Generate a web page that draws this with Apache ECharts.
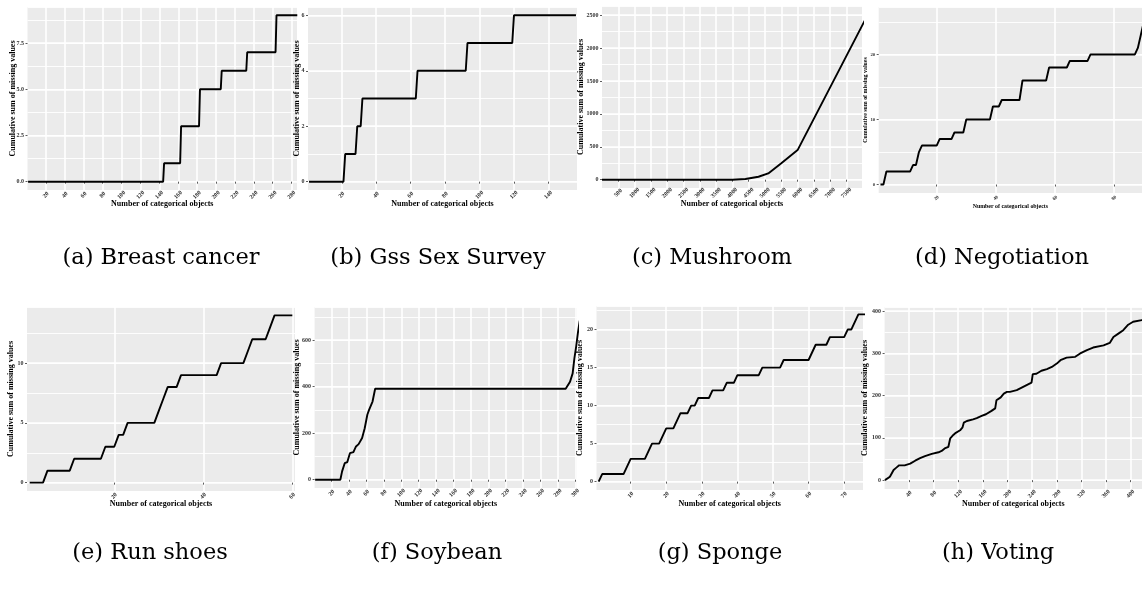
<!DOCTYPE html>
<html><head><meta charset="utf-8">
<script src="https://cdn.jsdelivr.net/npm/echarts@6/dist/echarts.min.js"></script>
<style>html,body{margin:0;padding:0;background:#fff}#c{width:1142px;height:596px}</style>
</head><body><div id="c"></div>
<script>
// ---------------- DATA ----------------
const breastX = [1,144,145,162,163,182,183,205,206,232,233,263,264,286];
const breastY = [0,0,1,1,3,3,5,5,6,6,7,7,9,9];
const breastXTicks = [20,40,60,80,100,120,140,160,180,200,220,240,260,280];
const breastYTicks = [0,2.5,5,7.5];

const gssX = [1,21,22,28,29,31,32,63,64,92,93,119,120,156];
const gssY = [0,0,1,1,2,2,3,3,4,4,5,5,6,6];
const gssXTicks = [20,40,60,80,100,120,140];
const gssYTicks = [0,2,4,6];

const mushX = [1,4000,4400,4800,5100,5500,6000,8124];
const mushY = [0,0,10,45,95,250,450,2480];
const mushXTicks = [500,1000,1500,2000,2500,3000,3500,4000,4500,5000,5500,6000,6500,7000,7500];
const mushYTicks = [0,500,1000,1500,2000,2500];

const negoX = [1,2,3,11,12,13,14,15,20,21,25,26,29,30,38,39,41,42,48,49,57,58,64,65,71,72,87,88,89,90,91];
const negoY = [0,0,2,2,3,3,5,6,6,7,7,8,8,10,10,12,12,13,13,16,16,18,18,19,19,20,20,21,23,25,26];
const negoXTicks = [20,40,60,80];
const negoYTicks = [0,10,20];

const shoesX = [1,4,5,10,11,17,18,20,21,22,23,29,30,31,32,34,35,43,44,49,50,51,54,55,56,60];
const shoesY = [0,0,1,1,2,2,3,3,4,4,5,5,6,7,8,8,9,9,10,10,11,12,12,13,14,14];
const shoesXTicks = [20,40,60];
const shoesYTicks = [0,5,10];

const soyX = [1,30,32,35,38,41,45,48,51,55,58,61,63,65,67,70,289,294,297,299,301,303,305,307];
const soyY = [0,0,36,71,76,114,119,143,153,179,221,279,300,307,336,391,391,421,457,521,571,630,680,707];
const soyXTicks = [20,40,60,80,100,120,140,160,180,200,220,240,260,280,300];
const soyYTicks = [0,200,400,600];

const spongeX = [1,2,8,10,14,16,18,20,22,24,26,27,28,29,32,33,36,37,39,40,46,47,52,53,60,62,65,66,70,71,72,74,76];
const spongeY = [0,1,1,3,3,5,5,7,7,9,9,10,10,11,11,12,12,13,13,14,14,15,15,16,16,18,18,19,19,20,20,22,22];
const spongeXTicks = [10,20,30,40,50,60,70];
const spongeYTicks = [0,5,10,15,20];

const votingX = [1,9,15,19,24,33,42,50,58,66,77,88,93,98,104,107,112,116,123,127,129,134,144,150,158,165,174,180,182,189,194,199,204,215,223,231,239,241,247,255,264,272,280,286,296,310,318,329,339,356,366,372,380,388,396,404,418,435];
const votingY = [0,8,24,29,35,35,39,46,52,57,62,66,69,75,79,99,107,112,118,125,136,140,144,147,152,156,164,170,189,196,205,209,209,213,219,225,231,251,252,259,263,268,276,284,290,292,300,308,314,319,325,339,347,355,368,375,379,390];
const votingXTicks = [40,80,120,160,200,240,280,320,360,400];
const votingYTicks = [0,100,200,300,400];

const captions = ['(a) Breast cancer','(b) Gss Sex Survey','(c) Mushroom','(d) Negotiation','(e) Run shoes','(f) Soybean','(g) Sponge','(h) Voting'];
const xTitle = 'Number of categorical objects';
const yTitle = 'Cumulative sum of missing values';

// ---------------- LAYOUT ----------------
const SERIF = '"Liberation Serif","Times New Roman",serif';
const panels = [
 {xs:breastX, ys:breastY, xt:breastXTicks, yt:breastYTicks, dec:1, g:[27.5,7,269.5,183], xr:[0.4,285.7], yr:[-0.45,9.45], tf:6, nf:8, yGap:11, xGap:10, cx:161, cy:258},
 {xs:gssX, ys:gssY, xt:gssXTicks, yt:gssYTicks, dec:0, g:[308,7,269,183], xr:[0.4,156.6], yr:[-0.3,6.3], tf:6, nf:8, yGap:7, xGap:10, cx:438, cy:258},
 {xs:mushX, ys:mushY, xt:mushXTicks, yt:mushYTicks, dec:0, g:[602,6,260,182], xr:[0.4,7975], yr:[-126,2640], tf:6, nf:8, yGap:17, xGap:12, cx:712, cy:258},
 {xs:negoX, ys:negoY, xt:negoXTicks, yt:negoYTicks, dec:0, g:[878.7,7,263.3,186], xr:[0.4,89.4], yr:[-1.3,27.3], tf:4.8, nf:5.9, yGap:10, xGap:10, cx:1002, cy:258},
 {xs:shoesX, ys:shoesY, xt:shoesXTicks, yt:shoesYTicks, dec:0, g:[27,307,268,184], xr:[0.4,60.6], yr:[-0.7,14.7], tf:6, nf:8, yGap:12, xGap:9, cx:150, cy:553},
 {xs:soyX, ys:soyY, xt:soyXTicks, yt:soyYTicks, dec:0, g:[314.6,307,262.4,181], xr:[0.4,302], yr:[-35.5,742], tf:6, nf:8, yGap:14, xGap:12, cx:437, cy:553},
 {xs:spongeX, ys:spongeY, xt:spongeXTicks, yt:spongeYTicks, dec:0, g:[596.5,306,266.5,184], xr:[0.4,75.3], yr:[-1.1,23.1], tf:6, nf:8, yGap:13, xGap:10, cx:720, cy:553},
 {xs:votingX, ys:votingY, xt:votingXTicks, yt:votingYTicks, dec:0, g:[884.6,307,257.4,182], xr:[0.4,418.4], yr:[-21,410], tf:6, nf:8, yGap:16, xGap:11, cx:998, cy:553}
];

const grid=[], xAxis=[], yAxis=[], series=[], graphic=[];
panels.forEach((p,i)=>{
  const xMajor = p.xt[1]-p.xt[0];
  const yMajor = p.yt[1]-p.yt[0];
  grid.push({left:p.g[0], top:p.g[1], width:p.g[2], height:p.g[3], show:true, backgroundColor:'#EBEBEB', borderWidth:0, containLabel:false});
  xAxis.push({type:'value', gridIndex:i, min:p.xr[0], max:p.xr[1], minInterval:xMajor, maxInterval:xMajor,
    name:xTitle, nameLocation:'middle', nameGap:p.xGap, nameMoveOverlap:false,
    nameTextStyle:{fontFamily:SERIF, fontWeight:'bold', fontSize:p.nf, color:'#000'},
    axisLine:{show:false},
    axisTick:{show:true, customValues:p.xt, length:2, lineStyle:{color:'#333', width:0.8}},
    axisLabel:{customValues:p.xt, rotate:45, align:'center', verticalAlign:'middle', margin:5,
      fontFamily:SERIF, fontWeight:'bold', fontSize:p.tf, color:'#333', formatter:v=>String(v)},
    splitLine:{show:true, lineStyle:{color:'#fff', width:1.6}}
  });
  yAxis.push({type:'value', gridIndex:i, position:'left', min:p.yr[0], max:p.yr[1], minInterval:yMajor, maxInterval:yMajor,
    name:yTitle, nameLocation:'middle', nameRotate:90, nameGap:p.yGap, nameMoveOverlap:false,
    nameTextStyle:{fontFamily:SERIF, fontWeight:'bold', fontSize:p.nf, color:'#000'},
    axisLine:{show:false},
    axisTick:{show:true, customValues:p.yt, length:2, lineStyle:{color:'#333', width:0.8}},
    axisLabel:{customValues:p.yt, margin:3.5, fontFamily:SERIF, fontWeight:'bold', fontSize:p.tf, color:'#333',
      formatter:v=> p.dec ? Number(v).toFixed(p.dec) : String(v)},
    splitLine:{show:true, lineStyle:{color:'#fff', width:1.6}}
  });
  yAxis.push({type:'value', gridIndex:i, position:'left', min:p.yr[0], max:p.yr[1], minInterval:yMajor/2, maxInterval:yMajor/2,
    axisLine:{show:false}, axisTick:{show:false}, axisLabel:{show:false},
    splitLine:{show:true, lineStyle:{color:'#fff', width:0.9}}
  });
  series.push({type:'line', xAxisIndex:i, yAxisIndex:2*i, data:p.xs.map((x,k)=>[x,p.ys[k]]),
    showSymbol:false, symbol:'none', clip:true, silent:true, z:5,
    lineStyle:{color:'#000', width:1.9}});
  graphic.push({type:'text', x:p.cx, y:p.cy, silent:true,
    style:{text:captions[i], fontFamily:'"DejaVu Serif",serif', fontSize:22.5, fill:'#000', align:'center', verticalAlign:'middle'}});
});

const chart = echarts.init(document.getElementById('c'), null, {renderer:'canvas', width:1142, height:596});
chart.setOption({animation:false, backgroundColor:'#fff', grid, xAxis, yAxis, series, graphic});
</script></body></html>
